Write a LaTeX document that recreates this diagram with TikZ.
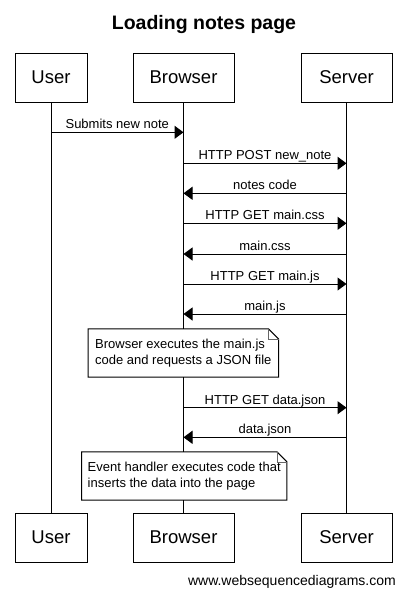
\documentclass[tikz,border=0pt]{standalone}
\usepackage{fontspec}
\setmainfont{Liberation Sans}
\usetikzlibrary{arrows.meta}
\begin{document}
\begin{tikzpicture}[x=1pt,y=-1pt,
  actor/.style={draw,line width=1pt,fill=white,minimum height=49pt,inner sep=0pt,
    font=\fontsize{18.5}{20}\selectfont},
  life/.style={line width=1pt},
  msg/.style={line width=1pt,-{Triangle[length=9pt,width=13pt]}},
  lbl/.style={font=\fontsize{13}{15}\selectfont,anchor=base,inner sep=0pt,yshift=3.5pt},
  notebox/.style={fill=white,minimum height=48pt,inner sep=0pt,align=left,
    font=\fontsize{13}{15.7}\selectfont},
  noteline/.style={line width=1pt},
  fold/.style={line width=0.6pt,draw=black!60}]
\useasboundingbox (0,0) rectangle (405,597);
\fill[white] (0,0) rectangle (405,597);

\node[font=\fontsize{19.5}{22}\selectfont\bfseries,anchor=base,inner sep=0pt] (title) at (204,29) {Loading notes page};

% participants
\node[actor,minimum width=72pt]  (uT) at (51,77.5)    {User};
\node[actor,minimum width=101pt] (bT) at (183.5,77.5) {Browser};
\node[actor,minimum width=91pt]  (sT) at (346.5,77.5) {Server};
\node[actor,minimum width=72pt]  (uB) at (51,537.5)    {User};
\node[actor,minimum width=101pt] (bB) at (183.5,537.5) {Browser};
\node[actor,minimum width=91pt]  (sB) at (346.5,537.5) {Server};

% lifelines
\draw[life] (uT) -- (uB);
\draw[life] (bT) -- (bB);
\draw[life] (sT) -- (sB);

% message anchors on lifelines
\foreach \n/\y in {1/132.3,2/163.3,3/193.3,4/223.3,5/254,6/284,7/314,8/407.7,9/437.3}{
  \coordinate (u\n) at (51,\y);
  \coordinate (b\n) at (183.5,\y);
  \coordinate (s\n) at (346.5,\y);
}

\draw[msg] (u1) -- node[lbl] {Submits new note} (b1);
\draw[msg] (b2) -- node[lbl] {HTTP POST new\_note} (s2);
\draw[msg] (s3) -- node[lbl] {notes code} (b3);
\draw[msg] (b4) -- node[lbl] {HTTP GET main.css} (s4);
\draw[msg] (s5) -- node[lbl] {main.css} (b5);
\draw[msg] (b6) -- node[lbl] {HTTP GET main.js} (s6);
\draw[msg] (s7) -- node[lbl] {main.js} (b7);
\draw[msg] (b8) -- node[lbl] {HTTP GET data.json} (s8);
\draw[msg] (s9) -- node[lbl] {data.json} (b9);

% notes
\node[notebox,minimum width=190pt] (n1) at (183.3,353)
  {Browser executes the main.js\\code and requests a JSON file};
\draw[noteline] (n1.south west) -- (n1.north west) -- ([xshift=-10pt]n1.north east)
  -- ([yshift=-10pt]n1.north east) -- (n1.south east) -- cycle;
\draw[fold] ([xshift=-10pt]n1.north east) -- ([xshift=-10pt,yshift=-10pt]n1.north east)
  -- ([yshift=-10pt]n1.north east);

\node[notebox,minimum width=205pt] (n2) at (184.2,476)
  {Event handler executes code that\\inserts the data into the page};
\draw[noteline] (n2.south west) -- (n2.north west) -- ([xshift=-10pt]n2.north east)
  -- ([yshift=-10pt]n2.north east) -- (n2.south east) -- cycle;
\draw[fold] ([xshift=-10pt]n2.north east) -- ([xshift=-10pt,yshift=-10pt]n2.north east)
  -- ([yshift=-10pt]n2.north east);

% footer
\node[font=\fontsize{14}{16}\selectfont,anchor=base east,inner sep=0pt] (web) at (396,585)
  {www.websequencediagrams.com};
\end{tikzpicture}
\end{document}
